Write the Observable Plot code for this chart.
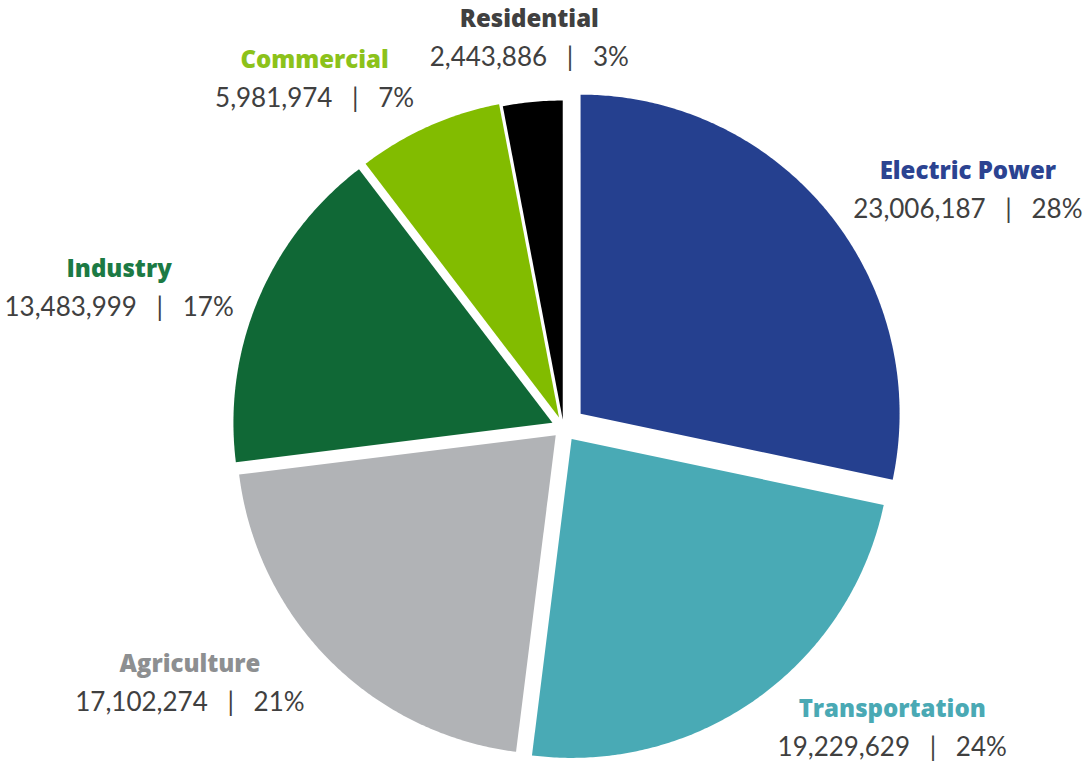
<!DOCTYPE html>
<html>
<head>
<meta charset="utf-8">
<script src="https://cdn.jsdelivr.net/npm/d3@7"></script>
<script src="https://cdn.jsdelivr.net/npm/@observablehq/plot@0.6"></script>
<style>
  html, body { margin: 0; padding: 0; background: #ffffff; }
  #chart svg { display: block; }
</style>
</head>
<body>
<div id="chart"></div>
<script>
// ---- data ----
const sectors = ["Electric Power", "Transportation", "Agriculture", "Industry", "Commercial", "Residential"];
const values = [23006187, 19229629, 17102274, 13483999, 5981974, 2443886];
const percentLabels = ["28%", "24%", "21%", "17%", "7%", "3%"];

// ---- styles ----
const sliceColors = ["#25408f", "#49aab5", "#b1b3b6", "#106836", "#82bc00", "#000000"];
const titleColors = ["#2b4391", "#4aa9b4", "#8d8f91", "#1c7a44", "#8cc21a", "#404040"];
const explodePx = [22, 14, 11, 12, 11, 8];

const W = 1086, H = 762, R = 319, CX = 563, CY = 427;
const TITLE_FONT = "'Open Sans', Lato, sans-serif";
const VALUE_FONT = "Lato, 'Open Sans', sans-serif";
const TITLE_SIZE = 24, VALUE_SIZE = 26, TITLE_SPACING = 0.6;
const EDGE_PAD = 4;

const fmt = d3.format(",");
const pieArcs = d3.pie().sort(null).value(d => d)(values);

// slice polygons in unit-radius coordinates (y up), built from pie angles
const slicePoints = [];
pieArcs.forEach((a, i) => {
  const mid = (a.startAngle + a.endAngle) / 2;
  const ox = (explodePx[i] / R) * Math.sin(mid);
  const oy = (explodePx[i] / R) * Math.cos(mid);
  const name = sectors[i];
  slicePoints.push({name, x: ox, y: oy});
  const n = Math.max(8, Math.ceil((a.endAngle - a.startAngle) / (Math.PI / 360)));
  for (let k = 0; k <= n; k++) {
    const t = a.startAngle + (a.endAngle - a.startAngle) * k / n;
    slicePoints.push({name, x: ox + Math.sin(t), y: oy + Math.cos(t)});
  }
});

// label placement computed from each slice's bisector (outside end), kept inside the frame
const canvas = document.createElement("canvas");
const ctx = canvas.getContext("2d");
function textWidth(str, weight, size, family, spacing = 0) {
  ctx.font = `${weight} ${size}px ${family}`;
  return ctx.measureText(str).width + spacing * str.length;
}
const xMin = -CX / R, xMax = (W - CX) / R;
const labels = pieArcs.map((a, i) => {
  const mid = (a.startAngle + a.endAngle) / 2;
  const ux = Math.sin(mid), uy = Math.cos(mid);
  const e = explodePx[i] / R;
  const rhoX = (R + 36) / R;
  const rhoY = (381.6 - 38.6 * Math.abs(ux) + 5 * uy) / R;
  const valueText = fmt(values[i]) + " \u2002|\u2002 " + percentLabels[i];
  const half = Math.max(
    textWidth(sectors[i], 800, TITLE_SIZE, TITLE_FONT, TITLE_SPACING),
    textWidth(valueText, 400, VALUE_SIZE, VALUE_FONT)
  ) / 2;
  const sx = Math.sign(ux) * Math.max(0, Math.min(1, (Math.abs(ux) - 0.1) * 3.5));
  let x = e * ux + rhoX * ux + (half / R) * sx;
  const lo = xMin + (half + EDGE_PAD) / R, hi = xMax - (half + EDGE_PAD) / R;
  x = Math.max(lo, Math.min(hi, x));
  return {
    name: sectors[i],
    valueText,
    color: titleColors[i],
    x,
    y: e * uy + rhoY * uy
  };
});

const marks = [
  Plot.line(slicePoints, {
    x: "x", y: "y", z: "name", fill: "name", stroke: "none", curve: "linear-closed"
  })
];
labels.forEach(l => {
  marks.push(Plot.text([l], {
    x: "x", y: "y", text: "name", fill: l.color, fontWeight: 800, fontSize: TITLE_SIZE,
    fontFamily: TITLE_FONT, textAnchor: "middle", lineAnchor: "bottom", dy: -11
  }));
  marks.push(Plot.text([l], {
    x: "x", y: "y", text: "valueText", fill: "#404040", fontWeight: 400, fontSize: VALUE_SIZE,
    fontFamily: VALUE_FONT, textAnchor: "middle", lineAnchor: "bottom", dy: 28
  }));
});

const chart = Plot.plot({
  width: W,
  height: H,
  margin: 0,
  x: {domain: [xMin, xMax], axis: null},
  y: {domain: [-(H - CY) / R, CY / R], axis: null},
  color: {domain: sectors, range: sliceColors},
  style: {background: "#ffffff"},
  marks
});
d3.select(chart).selectAll("text").filter(function () {
  return this.getAttribute("font-weight") === "800";
}).attr("letter-spacing", TITLE_SPACING);
document.getElementById("chart").appendChild(chart);
</script>
</body>
</html>
